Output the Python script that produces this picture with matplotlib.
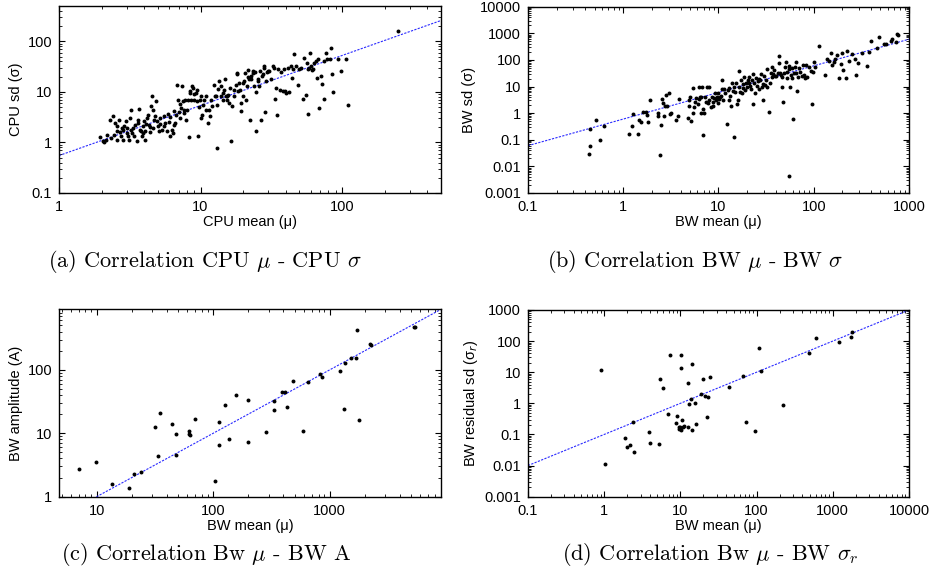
import numpy as np
import matplotlib
matplotlib.use('Agg')
import matplotlib.pyplot as plt
from matplotlib import ticker

plt.rcParams['font.family'] = ['Liberation Sans', 'DejaVu Sans']

# (a) CPU mean vs CPU sd
cpu_mean = [1.95, 2.06, 2.08, 2.15, 2.19, 2.29, 2.32, 2.42, 2.45, 2.48, 2.55, 2.55, 2.58, 2.67, 2.70,
            2.73, 2.77, 2.82, 2.85, 2.88, 2.98, 3.01, 3.04, 3.09, 3.14, 3.18, 3.21, 3.23, 3.26, 3.36,
            3.39, 3.45, 3.54, 3.59, 3.64, 3.70, 3.74, 3.78, 3.84, 3.91, 3.95, 4.00, 4.06, 4.06, 4.13,
            4.17, 4.22, 4.29, 4.37, 4.41, 4.46, 4.53, 4.60, 4.65, 4.71, 4.78, 4.86, 4.91, 4.97, 5.05,
            5.13, 5.19, 5.33, 5.48, 5.54, 5.63, 5.79, 5.85, 5.95, 6.05, 6.11, 6.29, 6.39, 6.45, 6.52,
            6.64, 6.75, 6.82, 6.89, 7.01, 7.13, 7.20, 7.28, 7.41, 7.54, 7.60, 7.68, 7.81, 7.94, 8.03,
            8.12, 8.26, 8.41, 8.48, 8.57, 8.72, 8.87, 8.96, 9.06, 9.22, 9.38, 9.46, 9.56, 9.73, 9.89,
            10.0, 10.1, 10.3, 10.4, 10.6, 10.9, 11.0, 11.2, 11.4, 11.6, 11.8, 12.1, 12.4, 12.6, 12.8,
            13.0, 13.1, 13.3, 13.5, 13.9, 14.0, 14.3, 14.5, 14.6, 14.8, 15.1, 15.3, 15.5, 15.6, 15.9,
            16.2, 16.4, 16.8, 17.1, 17.2, 17.8, 18.0, 18.2, 18.4, 18.7, 19.0, 19.2, 19.4, 19.8, 20.1,
            20.3, 20.5, 20.9, 21.3, 21.5, 21.7, 22.1, 22.4, 22.7, 22.9, 23.3, 23.6, 23.9, 24.2, 24.6,
            24.6, 25.3, 25.6, 26.0, 26.4, 26.7, 27.0, 27.4, 27.9, 28.2, 28.5, 29.0, 29.4, 29.8, 30.6,
            31.5, 32.3, 32.9, 33.5, 34.2, 34.8, 35.2, 36.2, 37.0, 38.1, 38.9, 39.2, 40.3, 41.3, 42.5,
            43.7, 44.2, 44.9, 46.0, 47.3, 48.6, 49.9, 51.3, 52.7, 54.1, 55.6, 56.4, 57.2, 57.7, 58.7,
            59.7, 60.3, 61.0, 62.0, 63.8, 65.5, 66.4, 67.3, 69.2, 71.2, 71.9, 74.0, 75.1, 77.2, 78.7,
            81.6, 84.0, 84.9, 86.5, 93.7, 98.7, 107, 110, 249]
cpu_sd = [1.28, 1.05, 1.0, 1.13, 1.42, 2.73, 1.22, 3.38, 1.42, 2.42, 2.08, 1.13, 1.65, 2.82, 1.58,
          1.32, 1.93, 1.73, 1.13, 2.08, 2.61, 1.53, 1.93, 1.32, 1.13, 3.04, 4.46, 1.79, 1.53, 1.93,
          1.32, 2.24, 1.08, 2.42, 2.82, 4.6, 1.79, 1.65, 1.32, 1.53, 2.08, 2.61, 1.65, 1.13, 2.31,
          3.04, 3.54, 2.24, 1.58, 1.99, 5.19, 8.2, 4.46, 1.93, 2.82, 3.28, 6.71, 2.61, 2.08, 1.65,
          2.35, 3.04, 1.73, 2.08, 3.28, 2.42, 1.65, 3.65, 2.49, 1.32, 3.18, 1.79, 1.53, 4.13, 2.24,
          2.42, 3.54, 13.8, 7.05, 3.94, 3.04, 5.85, 4.8, 13.3, 6.5, 3.83, 4.46, 6.83, 2.73, 4.46,
          7.05, 1.28, 9.55, 10.3, 7.05, 12.9, 12.0, 9.13, 7.05, 9.55, 6.5, 11.1, 1.32, 5.03, 7.05,
          8.2, 3.04, 3.54, 5.6, 7.05, 4.46, 8.2, 2.42, 4.46, 3.28, 7.05, 5.19, 14.0, 8.2, 8.2,
          5.6, 0.78, 11.5, 16.3, 8.43, 13.3, 9.55, 6.83, 11.1, 17.6, 8.2, 8.2, 7.05, 8.85, 6.05,
          12.0, 1.05, 5.19, 8.2, 11.1, 14.0, 23.1, 23.8, 10.3, 15.1, 11.1, 6.05, 4.13, 15.1, 8.2,
          16.6, 23.8, 7.05, 12.9, 26.9, 19.9, 17.6, 2.82, 20.5, 18.1, 23.8, 25.7, 12.9, 24.6, 9.8,
          1.65, 17.6, 16.3, 12.9, 25.7, 2.82, 20.5, 22.1, 29.9, 32.4, 3.94, 16.3, 24.6, 25.7, 25.7,
          17.6, 32.4, 29.9, 7.2, 12.0, 3.54, 27.8, 11.1, 24.6, 10.3, 27.8, 10.3, 9.55, 29.9, 9.8,
          32.4, 19.0, 27.8, 55.1, 32.4, 14.0, 28.6, 29.9, 7.36, 47.3, 8.85, 37.7, 27.8, 3.71, 29.9,
          57.8, 32.4, 26.9, 27.8, 36.6, 40.7, 19.0, 43.9, 4.8, 21.1, 14.6, 7.2, 40.7, 59.5, 43.9,
          45.3, 75.0, 22.1, 9.8, 43.9, 25.7, 43.9, 5.43, 160]

# (b) BW mean vs BW sd
bw_mean_b = [0.433, 0.45, 0.443, 0.52, 0.564, 0.625, 1.14, 1.23, 1.26, 1.42, 1.46, 1.54, 1.60, 1.74,
             1.78, 1.81, 1.91, 2.30, 2.30, 2.44, 2.50, 2.56, 2.64, 2.71, 2.77, 2.82, 2.88, 3.00, 3.10,
             3.18, 3.58, 3.73, 3.88, 4.75, 4.86, 4.94, 5.02, 5.15, 5.36, 5.45, 5.58, 5.71, 5.81, 6.04,
             6.19, 6.29, 6.39, 6.55, 6.55, 6.71, 6.82, 6.93, 7.10, 7.27, 7.39, 7.51, 7.69, 7.88, 8.01,
             8.34, 8.55, 8.68, 8.83, 9.04, 9.26, 9.41, 9.56, 9.80, 10.0, 10.2, 10.4, 10.6, 10.9, 11.0,
             11.2, 11.5, 11.8, 12.2, 12.5, 12.8, 13.0, 13.2, 13.5, 13.8, 14.1, 14.4, 14.7, 15.0, 15.2,
             15.5, 15.9, 16.3, 16.5, 16.8, 17.2, 17.6, 17.9, 18.2, 18.6, 19.1, 19.4, 19.7, 20.2, 20.7,
             21.0, 21.4, 21.9, 22.4, 22.8, 23.2, 23.7, 24.3, 24.7, 25.1, 25.7, 26.4, 26.8, 27.2, 27.9,
             28.6, 29.0, 29.5, 30.2, 31.0, 31.5, 32.0, 32.7, 34.1, 34.6, 35.5, 36.3, 36.9, 37.5, 38.4,
             39.4, 40.6, 41.7, 42.7, 43.4, 44.1, 45.2, 46.3, 47.0, 47.8, 48.9, 50.1, 50.9, 51.8, 53.0,
             54.4, 55.2, 55.2, 56.1, 57.5, 58.9, 59.8, 61.3, 62.2, 63.8, 64.9, 65.9, 67.5, 69.1, 70.3,
             71.4, 75.0, 77.4, 79.3, 81.3, 82.6, 86.0, 89.5, 93.1, 97.0, 98.6, 101, 103, 114, 131,
             139, 145, 151, 157, 164, 167, 177, 182, 192, 200, 203, 217, 225, 235, 255,
             271, 280, 294, 324, 365, 380, 396, 465, 484, 547, 569, 642, 668, 724, 754, 773]
bw_sd_b = [0.030, 0.056, 0.259, 0.562, 0.1, 0.316, 0.163, 0.335, 0.944, 0.168, 0.531, 0.447, 1.09, 1.09,
           0.84, 0.447, 2.99, 0.794, 1.0, 0.0274, 0.355, 3.35, 2.37, 0.75, 1.88, 4.87, 1.78, 5.62, 0.944,
           0.98, 0.531, 0.75, 3.35, 0.65, 1.88, 3.16, 4.22, 0.487, 1.0, 8.66, 1.68, 2.74, 3.65, 2.24,
           3.35, 10.0, 3.98, 4.22, 1.0, 9.44, 0.154, 1.41, 1.0, 4.22, 2.74, 9.44, 2.37, 3.16, 10.0,
           1.68, 4.22, 2.74, 1.88, 3.65, 5.62, 3.16, 4.22, 2.37, 5.62, 3.35, 4.22, 4.47, 17.8, 7.94,
           3.16, 7.94, 5.62, 0.398, 7.5, 8.66, 3.16, 4.47, 1.88, 13.3, 7.08, 9.44, 0.126, 6.49, 13.3,
           2.24, 3.16, 10.0, 39.8, 6.49, 17.8, 5.96, 8.66, 12.6, 23.7, 7.5, 14.1, 10.0, 17.8, 13.3,
           22.4, 10.6, 7.94, 17.8, 2.24, 29.9, 13.3, 5.96, 20.5, 10.6, 16.8, 7.94, 18.8, 17.8, 29.9,
           9.44, 12.6, 3.16, 25.1, 11.5, 17.8, 9.44, 44.7, 1.09, 14.1, 33.5, 56.2, 23.7, 29.9, 42.2,
           25.1, 25.1, 33.5, 141, 75.0, 31.6, 27.4, 10.0, 22.4, 2.74, 33.5, 56.2, 86.6, 20.5, 36.5,
           44.7, 0.00447, 59.6, 9.44, 27.4, 48.7, 20.5, 0.596, 31.6, 56.2, 86.6, 33.5, 7.08, 23.7, 48.7,
           36.5, 25.1, 64.9, 27.4, 20.5, 64.9, 23.7, 53.1, 39.8, 2.24, 36.5, 86.6, 56.2, 335, 27.4,
           106, 94.4, 178, 64.9, 86.6, 106, 154, 20.5, 70.8, 188, 42.2, 20.5, 224, 94.4, 168,
           106, 27.4, 75.0, 188, 59.6, 205, 531, 274, 708, 387, 398, 531, 596, 487, 944, 866]

# (c) BW mean vs BW amplitude
bw_mean_c = [7.0, 9.87, 13.5, 18.8, 20.7, 23.9, 31.5, 33.9, 34.8, 44.4, 47.8, 47.8, 61.8, 62.2, 63.8,
             69.2, 103, 113, 113, 126, 136, 157, 197, 200, 286, 330, 330, 387, 413, 430,
             487, 590, 647, 820, 865, 1219, 1318, 1355, 1525, 1672, 1718, 1787, 2208, 2238, 5277, 5380]
bw_amp = [2.74, 3.58, 1.61, 1.39, 2.29, 2.49, 12.7, 4.30, 21.1, 14.0, 4.46, 9.70, 10.7, 9.82, 9.24,
          16.6, 1.75, 15.0, 6.42, 27.4, 8.18, 39.7, 7.33, 33.5, 10.3, 23.0, 32.7, 44.9, 44.9, 25.6,
          67.0, 11.0, 64.6, 85.4, 77.5, 96.4, 24.0, 128, 153, 153, 419, 16.2, 252, 243, 474, 474]

# (d) BW mean vs BW residual sd
bw_mean_d = [0.914, 1.01, 1.85, 2.02, 2.15, 2.42, 2.47, 3.85, 4.01, 5.31, 5.36, 5.98, 6.96, 7.32, 8.78,
             9.14, 9.51, 9.71, 9.91, 10.1, 10.2, 10.2, 10.5, 10.7, 11.3, 12.5, 12.6, 13.1, 13.9, 14.1,
             14.2, 15.4, 15.9, 18.5, 19.6, 20.8, 22.1, 23.0, 24.7, 43.9, 65.5, 72.5, 94.1, 106, 115,
             219, 494, 598, 1211, 1722, 1812]
bw_res = [11.8, 0.0115, 0.0787, 0.0404, 0.0446, 0.257, 0.0266, 0.123, 0.0544, 0.0505, 6.06, 3.19, 0.443,
          35.8, 0.227, 0.392, 0.169, 0.153, 0.173, 13.7, 34.9, 0.139, 0.291, 0.178, 0.187, 0.178, 4.40,
          0.929, 1.34, 18.4, 0.139, 1.0, 0.222, 2.0, 6.06, 1.72, 0.355, 1.64, 6.86, 3.43, 7.57, 0.251,
          0.132, 58.7, 10.7, 0.863, 42.6, 129, 93.8, 139, 201]

# power-law fits y = a * x^b
fit_a = [0.55, 0.6, 0.1, 0.1]
fit_b = [0.99, 1.0, 1.0, 1.0]

panels = [
    (cpu_mean, cpu_sd, 'CPU mean (μ)', 'CPU sd (σ)', (1, 500), (0.1, 500),
     '(a) Correlation CPU $\\mu$ - CPU $\\sigma$'),
    (bw_mean_b, bw_sd_b, 'BW mean (μ)', 'BW sd (σ)', (0.1, 1000), (0.001, 10000),
     '(b) Correlation BW $\\mu$ - BW $\\sigma$'),
    (bw_mean_c, bw_amp, 'BW mean (μ)', 'BW amplitude (A)', (4.75, 9000), (1, 900),
     '(c) Correlation Bw $\\mu$ - BW A'),
    (bw_mean_d, bw_res, 'BW mean (μ)', 'BW residual sd (σ$_r$)', (0.1, 10000), (0.001, 1000),
     '(d) Correlation Bw $\\mu$ - BW $\\sigma_r$'),
]

# axes boxes in figure fraction
boxes = [[0.0633, 0.6661, 0.4099, 0.3235],
         [0.5665, 0.6661, 0.4088, 0.3223],
         [0.0633, 0.1407, 0.4099, 0.3242],
         [0.5665, 0.1407, 0.4088, 0.3230]]
caption_pos = [(0.052, 0.548), (0.587, 0.548), (0.065, 0.040), (0.603, 0.040)]

fig = plt.figure(figsize=(9.32, 5.78), dpi=100)

for i, (x, y, xl, yl, xlim, ylim, cap) in enumerate(panels):
    ax = fig.add_axes(boxes[i])
    ax.set_xscale('log')
    ax.set_yscale('log')
    ax.scatter(x, y, s=8, color='black', linewidths=0, zorder=3)
    xs = np.array(xlim)
    ax.plot(xs, fit_a[i] * xs ** fit_b[i], color='#2a2aff', lw=0.8,
            linestyle=(0, (2, 1.2)), zorder=2)
    ax.set_xlim(xlim)
    ax.set_ylim(ylim)
    for axis in (ax.xaxis, ax.yaxis):
        axis.set_major_locator(ticker.LogLocator(base=10, numticks=20))
        axis.set_minor_locator(ticker.LogLocator(base=10, subs=np.arange(2, 10), numticks=20))
        axis.set_major_formatter(ticker.FuncFormatter(lambda v, p: f'{v:g}'))
        axis.set_minor_formatter(ticker.NullFormatter())
    ax.tick_params(which='both', direction='in', top=True, right=True, labelsize=10.5, pad=5)
    ax.tick_params(which='major', length=4, width=0.8)
    ax.tick_params(which='minor', length=2, width=0.6)
    for sp in ax.spines.values():
        sp.set_linewidth(1.0)
    ax.set_xlabel(xl, fontsize=10.5, labelpad=1)
    ax.set_ylabel(yl, fontsize=10.5, labelpad=3)
    fig.text(caption_pos[i][0], caption_pos[i][1], cap, family='cmr10',
             math_fontfamily='cm', fontsize=16, va='center', ha='left')

fig.savefig('out.png', dpi=100)
